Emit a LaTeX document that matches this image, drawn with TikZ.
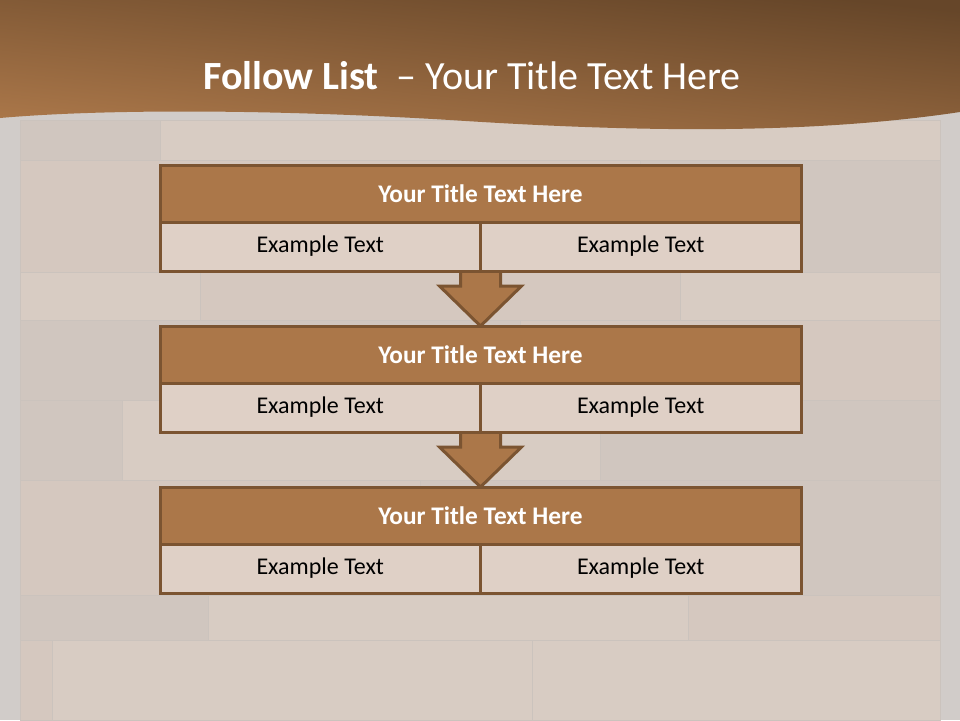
\documentclass[tikz,border=0pt]{standalone}
\usepackage{fontspec}
\setmainfont{Carlito}
\usetikzlibrary{positioning,calc,backgrounds}
\definecolor{cBase}{HTML}{D1CCC9}
\definecolor{cWoodA}{HTML}{D8CCC3}
\definecolor{cWoodB}{HTML}{D0C6BF}
\definecolor{cWoodC}{HTML}{D5C8BF}
\definecolor{cSeam}{HTML}{CBC3BD}
\definecolor{cBannerTop}{HTML}{664629}
\definecolor{cBannerBot}{HTML}{AC784A}
\definecolor{cTitle}{HTML}{AB7749}
\definecolor{cCell}{HTML}{DFD0C6}
\definecolor{cEdge}{HTML}{7B5431}
\tikzset{
  titlebar/.style={draw=cEdge,line width=2.25pt,fill=cTitle,minimum width=480.75pt,
    minimum height=42.75pt,inner sep=0pt,outer sep=0pt,text=white,
    font=\fontsize{19}{23}\selectfont\bfseries},
  cell/.style={draw=cEdge,line width=2.25pt,fill=cCell,minimum width=240.375pt,
    minimum height=36.75pt,inner sep=0pt,outer sep=0pt,
    font=\fontsize{18}{22}\selectfont},
  downarrow/.style={draw=cEdge,line width=2.25pt,fill=cTitle,line join=miter},
  plank/.style={draw=cSeam,line width=0.75pt},
}
\begin{document}
\begin{tikzpicture}[x=0.75pt,y=-0.75pt]
  \node[titlebar] (t1) at (480.5,193.5) {Your Title Text Here};
  \node[cell,anchor=north east] (l1) at (t1.south) {Example Text};
  \node[cell,anchor=north west] (r1) at (t1.south) {Example Text};

  \node[titlebar,below=41.25pt of l1.south east] (t2) {Your Title Text Here};
  \node[cell,anchor=north east] (l2) at (t2.south) {Example Text};
  \node[cell,anchor=north west] (r2) at (t2.south) {Example Text};

  \node[titlebar,below=41.25pt of l2.south east] (t3) {Your Title Text Here};
  \node[cell,anchor=north east] (l3) at (t3.south) {Example Text};
  \node[cell,anchor=north west] (r3) at (t3.south) {Example Text};

  \begin{scope}[on background layer]
    % floor
    \fill[cBase] (0,0) rectangle (960,720);
    \foreach \xa/\ya/\xb/\yb/\c in {
        20/120/160/160/cWoodB, 160/120/940/160/cWoodA,
        20/160/640/272/cWoodC, 640/160/940/272/cWoodB,
        20/272/200/320/cWoodA, 200/272/680/320/cWoodC, 680/272/940/320/cWoodA,
        20/320/520/400/cWoodB, 520/320/940/400/cWoodC,
        20/400/122/480/cWoodB, 122/400/600/480/cWoodA, 600/400/940/480/cWoodB,
        20/480/420/595/cWoodC, 420/480/940/595/cWoodB,
        20/595/208/640/cWoodB, 208/595/688/640/cWoodA, 688/595/940/640/cWoodC,
        20/640/52/720/cWoodC, 52/640/532/720/cWoodA, 532/640/940/720/cWoodA}
      \filldraw[plank,fill=\c] (\xa,\ya) rectangle (\xb,\yb);
    % banner
    \shade[top color=cBannerTop,bottom color=cBannerBot,shading angle=-6]
      (0,0) -- (960,0) -- (960,112)
      .. controls (800,136) and (620,131) .. (450,120)
      .. controls (250,108) and (90,110) .. (0,118) -- cycle;
    % block arrows behind the boxes
    \draw[downarrow] ($(l1.south east)+(-20,0)$) -- ($(t2.north)+(-20,-40)$)
      -- ($(t2.north)+(-41,-40)$) -- (t2.north) -- ($(t2.north)+(41,-40)$)
      -- ($(t2.north)+(20,-40)$) -- ($(l1.south east)+(20,0)$);
    \draw[downarrow] ($(l2.south east)+(-20,0)$) -- ($(t3.north)+(-20,-40)$)
      -- ($(t3.north)+(-41,-40)$) -- (t3.north) -- ($(t3.north)+(41,-40)$)
      -- ($(t3.north)+(20,-40)$) -- ($(l2.south east)+(20,0)$);
  \end{scope}
  \node[text=white,font=\fontsize{30}{36}\selectfont] (head) at (472,76)
    {\textbf{Follow List}\ \ -- Your Title Text Here};
\end{tikzpicture}
\end{document}
